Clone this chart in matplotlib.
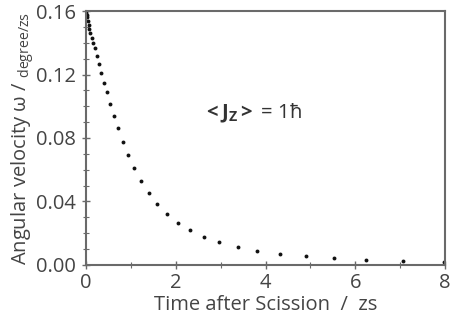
import matplotlib.pyplot as plt
from matplotlib.ticker import MultipleLocator, FormatStrFormatter

plt.rcParams['font.family'] = ['Open Sans', 'DejaVu Sans']
plt.rcParams['mathtext.fontset'] = 'custom'
plt.rcParams['mathtext.rm'] = 'Open Sans'
plt.rcParams['mathtext.bf'] = 'Open Sans:bold'
plt.rcParams['mathtext.it'] = 'Open Sans:italic'

# time after scission (zs) and angular velocity (degree/zs)
time = [0.0, 0.01, 0.02, 0.03, 0.045, 0.06, 0.075, 0.089, 0.127, 0.163, 0.201,
        0.239, 0.291, 0.342, 0.402, 0.463, 0.536, 0.619, 0.715, 0.820, 0.939,
        1.066, 1.222, 1.401, 1.587, 1.803, 2.049, 2.324, 2.637, 2.972, 3.381,
        3.815, 4.320, 4.894, 5.526, 6.241, 7.055, 7.971]
omega = [0.1600, 0.1588, 0.1575, 0.1560, 0.1540, 0.1515, 0.1490, 0.1461, 0.1430,
         0.1400, 0.1365, 0.1318, 0.1268, 0.1208, 0.1148, 0.1088, 0.1016, 0.0939,
         0.0861, 0.0773, 0.0693, 0.0609, 0.0527, 0.0454, 0.0384, 0.0321, 0.0266,
         0.0219, 0.0176, 0.0143, 0.0113, 0.0090, 0.0071, 0.0055, 0.0042, 0.0033,
         0.0027, 0.0021]

txt = '#444444'
spine = '#6a6a6a'
fs = 14.5

fig = plt.figure(figsize=(4.5, 3.25), dpi=100)
ax = fig.add_axes([0.191, 0.185, 0.798, 0.781])

ax.plot(time, omega, 'o', color='#111111', ms=2.8, mew=0)

ax.set_xlim(0, 8)
ax.set_ylim(0, 0.16)
ax.xaxis.set_major_locator(MultipleLocator(2))
ax.xaxis.set_minor_locator(MultipleLocator(1))
ax.yaxis.set_major_locator(MultipleLocator(0.04))
ax.yaxis.set_minor_locator(MultipleLocator(0.01))
ax.yaxis.set_major_formatter(FormatStrFormatter('%.2f'))

for s in ax.spines.values():
    s.set_color(spine)
    s.set_linewidth(1.5)
ax.tick_params(which='major', direction='inout', length=6, width=1, color=spine,
               labelsize=fs, labelcolor=txt, top=False, right=False)
ax.tick_params(which='minor', direction='inout', length=4, width=0.8, color=spine,
               top=False, right=False)
ax.tick_params(axis='y', which='major', pad=4)
ax.tick_params(axis='x', which='major', pad=3)

ax.set_xlabel('Time after Scission  /  zs', fontsize=fs, color=txt, labelpad=1)
ax.set_ylabel(r'Angular velocity ω / $_{\mathregular{degree/zs}}$', fontsize=fs,
              color=txt, labelpad=0)

ax.text(3.71, 0.0957, r'$\mathbf{{<}J_Z{>}}$ = 1ħ', fontsize=fs, color='#333333',
        ha='center', va='center')

fig.savefig('out.png', dpi=100)
